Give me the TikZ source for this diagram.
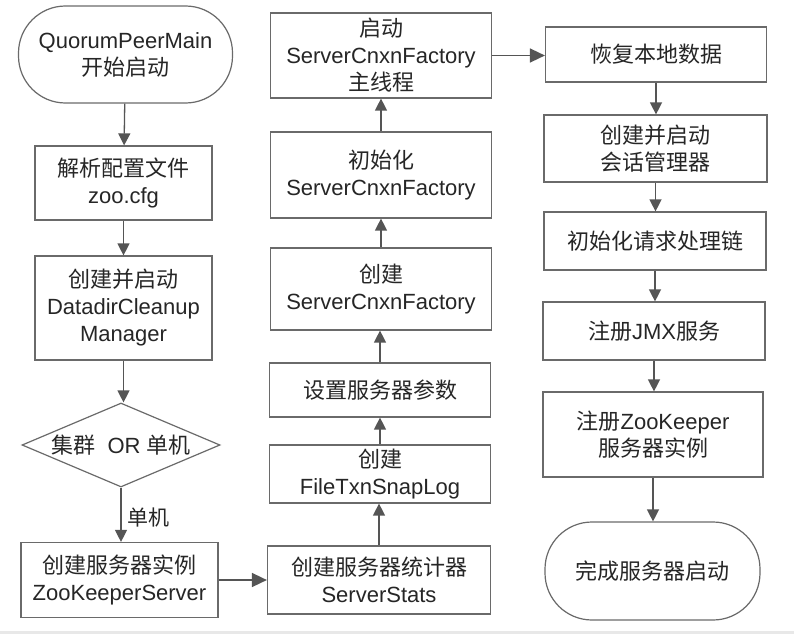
\documentclass[tikz,border=0pt]{standalone}
\usepackage{fontspec}
\setmainfont{Liberation Sans}
\newfontfamily\cjk{Noto Sans CJK SC}
\newcommand{\zh}[1]{{\cjk #1}}
\usetikzlibrary{shapes.geometric,arrows.meta}
\definecolor{linecol}{HTML}{555555}
\definecolor{boxcol}{HTML}{6A6A6A}
\definecolor{txtcol}{HTML}{262626}
\begin{document}
\begin{tikzpicture}[x=1pt,y=-1pt,
  every node/.style={font=\fontsize{22}{27}\selectfont, text=txtcol, align=center},
  box/.style={draw=boxcol, line width=1.2pt, fill=white, rectangle, inner sep=0pt},
  stadium/.style={draw=boxcol, line width=1.2pt, fill=white, rectangle, rounded corners=47pt, inner sep=0pt},
  arr/.style={draw=linecol, line width=1.3pt, -{Triangle[length=12pt,width=12pt]}},
  harr/.style={draw=linecol, line width=1.6pt, -{Triangle[length=15pt,width=14pt]}}
]
\useasboundingbox (0,0) rectangle (794,634);
\fill[white] (0,0) rectangle (794,634);
\fill[gray!18] (0,631) rectangle (794,634);

% left column
\node[stadium, minimum width=214pt, minimum height=97pt] (start) at (125.5,54.5) {QuorumPeerMain\\\zh{开始启动}};
\node[box, minimum width=177pt, minimum height=74pt] (parse) at (123.5,183) {\zh{解析配置文件}\\zoo.cfg};
\node[box, minimum width=177pt, minimum height=104pt] (clean) at (123.5,308) {\zh{创建并启动}\\DatadirCleanup\\Manager};
\node[draw=boxcol, line width=1.2pt, fill=white, diamond, minimum width=198pt, minimum height=84pt, inner sep=0pt] (dia) at (121,445) {};
\node (diatext) at (dia) {\zh{集群}\ \ OR \zh{单机}};
\node[box, minimum width=197pt, minimum height=75pt] (zks) at (119.5,580) {\zh{创建服务器实例}\\ZooKeeperServer};

% middle column
\node[box, minimum width=221pt, minimum height=85pt] (boot) at (381,55.5) {\zh{启动}\\ServerCnxnFactory\\\zh{主线程}};
\node[box, minimum width=221pt, minimum height=86pt] (initf) at (381,175) {\zh{初始化}\\ServerCnxnFactory};
\node[box, minimum width=221pt, minimum height=82pt] (createf) at (381,289) {\zh{创建}\\ServerCnxnFactory};
\node[box, minimum width=221pt, minimum height=54pt] (params) at (380,390) {\zh{设置服务器参数}};
\node[box, minimum width=221pt, minimum height=58pt] (ftsl) at (380,474) {\zh{创建}\\FileTxnSnapLog};
\node[box, minimum width=223pt, minimum height=68pt] (stats) at (379,580) {\zh{创建服务器统计器}\\ServerStats};

% right column
\node[box, minimum width=221pt, minimum height=55pt] (recover) at (656,54.5) {\zh{恢复本地数据}};
\node[box, minimum width=223pt, minimum height=67pt] (session) at (655.5,148.5) {\zh{创建并启动}\\\zh{会话管理器}};
\node[box, minimum width=222pt, minimum height=58pt] (chain) at (655,241) {\zh{初始化请求处理链}};
\node[box, minimum width=222pt, minimum height=58pt] (jmx) at (654,331) {\zh{注册}JMX\zh{服务}};
\node[box, minimum width=220pt, minimum height=85pt] (zkreg) at (653,434.5) {\zh{注册}ZooKeeper\\\zh{服务器实例}};
\node[stadium, minimum width=215pt, minimum height=98pt] (finish) at (652.5,571) {\zh{完成服务器启动}};

% connectors
\draw[arr] (start) -- (parse);
\draw[arr] (parse) -- (clean);
\draw[arr] (clean.south) -- (clean.south |- dia.north);
\draw[arr] (dia.south) -- node[right, xshift=3pt, yshift=-3pt, font=\fontsize{21}{25}\selectfont] (lbl) {\zh{单机}} (dia.south |- zks.north);
\draw[harr] (zks.east) -- (zks.east -| stats.west);
\draw[arr] (stats.north) -- (stats.north |- ftsl.south);
\draw[arr] (ftsl.north) -- (ftsl.north |- params.south);
\draw[arr] (params.north) -- (params.north |- createf.south);
\draw[arr] (createf.north) -- (createf.north |- initf.south);
\draw[arr] (initf.north) -- (initf.north |- boot.south);
\draw[harr] (boot.east) -- (boot.east -| recover.west);
\draw[arr] (recover.south) -- (recover.south |- session.north);
\draw[arr] (session.south) -- (session.south |- chain.north);
\draw[arr] (chain.south) -- (chain.south |- jmx.north);
\draw[arr] (jmx.south) -- (jmx.south |- zkreg.north);
\draw[arr] (zkreg.south) -- (zkreg.south |- finish.north);
\end{tikzpicture}
\end{document}
